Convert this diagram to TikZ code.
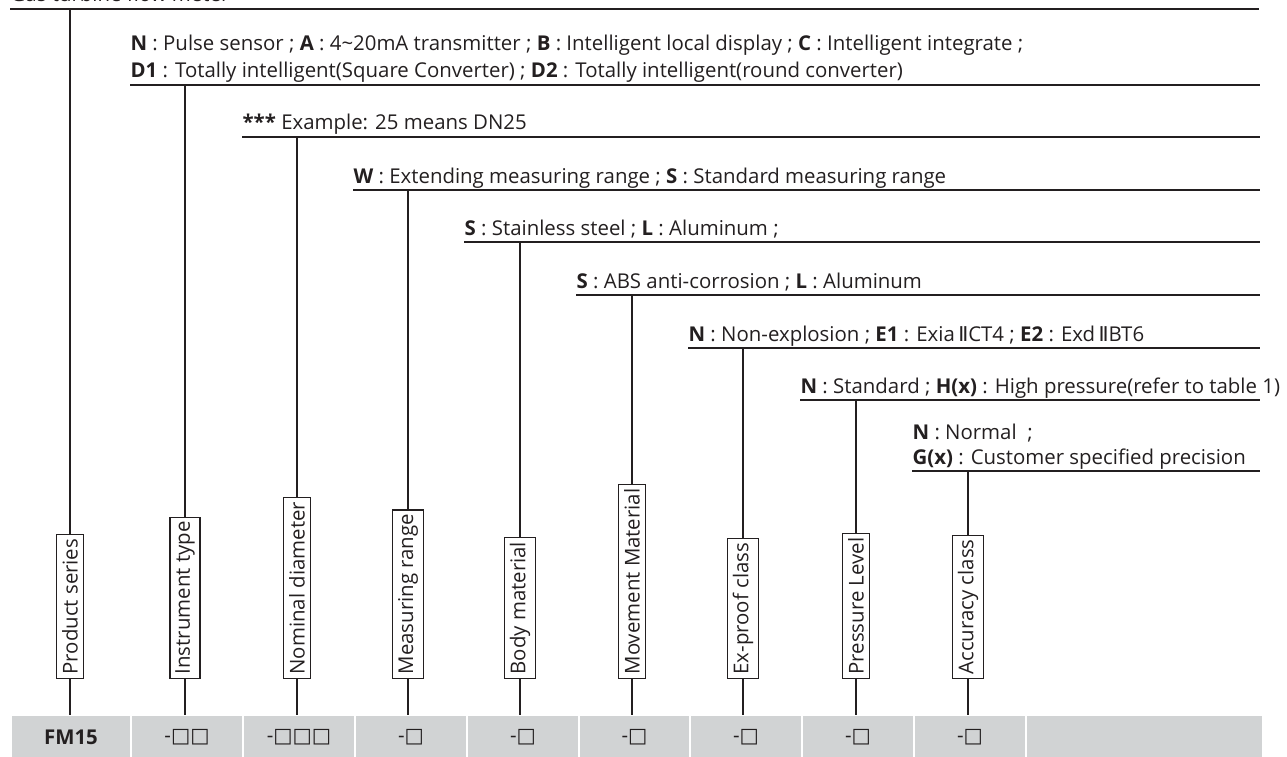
\documentclass[tikz,border=0pt]{standalone}
\usepackage{fontspec}
\setmainfont{Open Sans}
\newfontfamily\symfont{DejaVu Sans}
\newcommand\sq{{\symfont □}}
\newcommand\rtwo{\,{\symfont Ⅱ}}
\definecolor{cellgray}{RGB}{209,211,212}
\definecolor{ink}{RGB}{35,31,32}

\begin{document}
\begin{tikzpicture}[x=0.75pt,y=-0.75pt,line width=0.9pt,draw=ink,text=ink,
  main/.style = {draw,rotate=90,anchor=west,inner xsep=3pt,inner ysep=4pt,font=\fontsize{15.3}{18}\selectfont},
  head/.style = {anchor=base west,inner sep=0pt,font=\fontsize{15.3}{18}\selectfont},
  cell/.style = {fill=cellgray,minimum height=32pt,inner sep=0pt,font=\fontsize{15.3}{18}\selectfont}]
\useasboundingbox (0,0) rectangle (1287,756);

% title (cut by the page edge) and top rule
\node (title) [head] at (10,2) {Gas turbine flow meter};
\coordinate (t0) at (10,9);
\coordinate (t1) at (1259,9);
\draw (t0) -- (t1);

% header lines
\coordinate (a0) at (130,85);  \coordinate (a1) at (1260,85);
\coordinate (b0) at (242,137); \coordinate (b1) at (1260,137);
\coordinate (c0) at (353,190); \coordinate (c1) at (1260,190);
\coordinate (d0) at (464,242); \coordinate (d1) at (1260,242);
\coordinate (e0) at (576,295); \coordinate (e1) at (1260,295);
\coordinate (f0) at (688,348); \coordinate (f1) at (1260,348);
\coordinate (g0) at (800,400); \coordinate (g1) at (1260,400);
\coordinate (h0) at (912,471); \coordinate (h1) at (1260,471);
\draw (a0) -- (a1);
\draw (b0) -- (b1);
\draw (c0) -- (c1);
\draw (d0) -- (d1);
\draw (e0) -- (e1);
\draw (f0) -- (f1);
\draw (g0) -- (g1);
\draw (h0) -- (h1);

% header texts
\node (ta) [head] at (130,51) {\textbf{N} : Pulse sensor ; \textbf{A} : 4\textasciitilde20mA transmitter ; \textbf{B} : Intelligent local display ; \textbf{C} : Intelligent integrate ;};
\node (tb) [head] at (130,78) {\textbf{D1} : Totally intelligent(Square Converter) ; \textbf{D2} : Totally intelligent(round converter)};
\node (tc) [head] at (242,130) {\textbf{***} Example: 25 means DN25};
\node (td) [head] at (353,183) {\textbf{W} : Extending measuring range ; \textbf{S} : Standard measuring range};
\node (te) [head] at (464,235) {\textbf{S} : Stainless steel ; \textbf{L} : Aluminum ;};
\node (tf) [head] at (576,288) {\textbf{S} : ABS anti-corrosion ; \textbf{L} : Aluminum};
\node (tg) [head] at (688,341) {\textbf{N} : Non-explosion ; \textbf{E1} : Exia\rtwo CT4 ; \textbf{E2} : Exd\rtwo BT6};
\node (th) [head] at (800,393) {\textbf{N} : Standard ; \textbf{H(x)} : High pressure(refer to table 1)};
\node (ti) [head] at (912,439) {\textbf{N} : Normal\ \ ;};
\node (tj) [head] at (912,464) {\textbf{G(x)} : Customer specified precision};

% field boxes
\node (p1) [main] at (70,679) {Product series};
\node (p2) [main] at (185,679) {Instrument type};
\node (p3) [main] at (297,679) {Nominal diameter};
\node (p4) [main] at (408,679) {Measuring range};
\node (p5) [main] at (520,679) {Body material};
\node (p6) [main] at (632,679) {Movement Material};
\node (p7) [main] at (743,679) {Ex-proof class};
\node (p8) [main] at (856,679) {Pressure Level};
\node (p9) [main] at (968,679) {Accuracy class};

% code row
\node (k1) [cell,minimum width=88.5pt] at (71,737) {\textbf{FM15}};
\node (k2) [cell,minimum width=82.5pt] at (187,737) {-\sq\sq};
\node (k3) [cell,minimum width=82.5pt] at (299,737) {-\sq\sq\sq};
\node (k4) [cell,minimum width=82.5pt] at (411,737) {-\sq};
\node (k5) [cell,minimum width=82.5pt] at (523,737) {-\sq};
\node (k6) [cell,minimum width=81.75pt] at (634.5,737) {-\sq};
\node (k7) [cell,minimum width=82.5pt] at (746,737) {-\sq};
\node (k8) [cell,minimum width=82.5pt] at (858,737) {-\sq};
\node (k9) [cell,minimum width=82.5pt] at (970,737) {-\sq};
\node (k10) [cell,minimum width=176.25pt] at (1144.5,737) {};

% connectors
\draw (t0 -| p1.east) -- (p1.east);
\draw (a0 -| p2.east) -- (p2.east);
\draw (b0 -| p3.east) -- (p3.east);
\draw (c0 -| p4.east) -- (p4.east);
\draw (d0 -| p5.east) -- (p5.east);
\draw (e0 -| p6.east) -- (p6.east);
\draw (f0 -| p7.east) -- (p7.east);
\draw (g0 -| p8.east) -- (p8.east);
\draw (h0 -| p9.east) -- (p9.east);
\draw (p1.west) -- (p1.west |- k1.north);
\draw (p2.west) -- (p2.west |- k2.north);
\draw (p3.west) -- (p3.west |- k3.north);
\draw (p4.west) -- (p4.west |- k4.north);
\draw (p5.west) -- (p5.west |- k5.north);
\draw (p6.west) -- (p6.west |- k6.north);
\draw (p7.west) -- (p7.west |- k7.north);
\draw (p8.west) -- (p8.west |- k8.north);
\draw (p9.west) -- (p9.west |- k9.north);

\end{tikzpicture}
\end{document}
